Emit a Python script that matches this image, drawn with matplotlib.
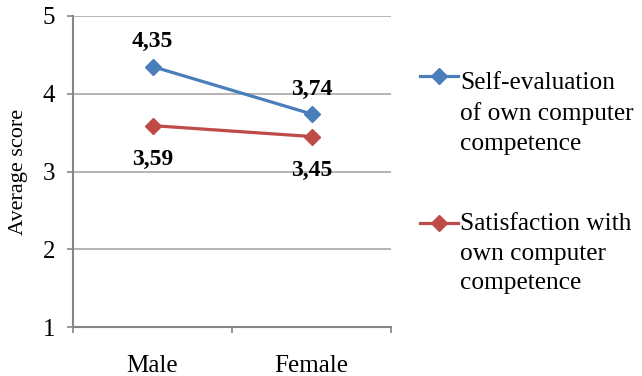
import numpy as np
import matplotlib.pyplot as plt
from matplotlib.lines import Line2D

plt.rc('font', family='Liberation Serif')

categories = ['Male', 'Female']
self_eval = [4.35, 3.74]
satisfaction = [3.59, 3.45]
series_names = ['Self-evaluation\nof own computer\ncompetence',
                'Satisfaction with\nown computer\ncompetence']
colors = ['#4A7EBB', '#BE4B48']

fig = plt.figure(figsize=(6.42, 3.76), dpi=100)
ax = fig.add_axes([73/642, 49/376, 318/642, 311/376])

x = np.arange(len(categories))
ax.plot(x, self_eval, color=colors[0], marker='D', markersize=8.5, linewidth=2.3, clip_on=False)
ax.plot(x, satisfaction, color=colors[1], marker='D', markersize=8.5, linewidth=2.3, clip_on=False)

# data labels: blue above, red below, decimal comma
for xi, v in zip(x, self_eval):
    ax.annotate(f"{v:.2f}".replace('.', ','), (xi, v), xytext=(0, 14), textcoords='offset points',
                ha='center', va='baseline', fontsize=17, fontweight='bold')
for xi, v in zip(x, satisfaction):
    ax.annotate(f"{v:.2f}".replace('.', ','), (xi, v), xytext=(0, -17), textcoords='offset points',
                ha='center', va='top', fontsize=17, fontweight='bold')

ax.set_xlim(-0.5, 1.5)
ax.set_ylim(1, 5)
ax.set_yticks([1, 2, 3, 4, 5])
ax.set_xticks(x)
ax.set_xticklabels(categories, fontsize=18)
ax.tick_params(axis='x', length=0, pad=20)
ax.set_xticks([-0.5, 0.5, 1.5], minor=True)
ax.tick_params(axis='x', which='minor', length=4, width=1.2, color='#868686')
ax.tick_params(axis='y', length=4, width=1.2, color='#868686', labelsize=18, pad=9)
ax.grid(axis='y', color='#A0A0A0', linewidth=1.1)
ax.set_axisbelow(True)
for s in ['top', 'right']:
    ax.spines[s].set_visible(False)
for s in ['left', 'bottom']:
    ax.spines[s].set_color('#868686')
    ax.spines[s].set_linewidth(1.5)
ax.set_ylabel('Average score', fontsize=16)
ax.yaxis.set_label_coords(-0.1415, 0.5)

# legend beside the plot, marker level with the first text line
for name, c, ymark, ytop in zip(series_names, colors, [76, 223], [72, 213]):
    yf = 1 - ymark / 376
    fig.add_artist(Line2D([420/642, 458/642], [yf, yf], color=c, linewidth=2.3))
    fig.add_artist(Line2D([439/642], [yf], color=c, marker='D', markersize=8.5))
    fig.text(460/642, 1 - ytop / 376, name, fontsize=18.3, ha='left', va='top',
             linespacing=1.45)

fig.savefig('out.png', dpi=100)
